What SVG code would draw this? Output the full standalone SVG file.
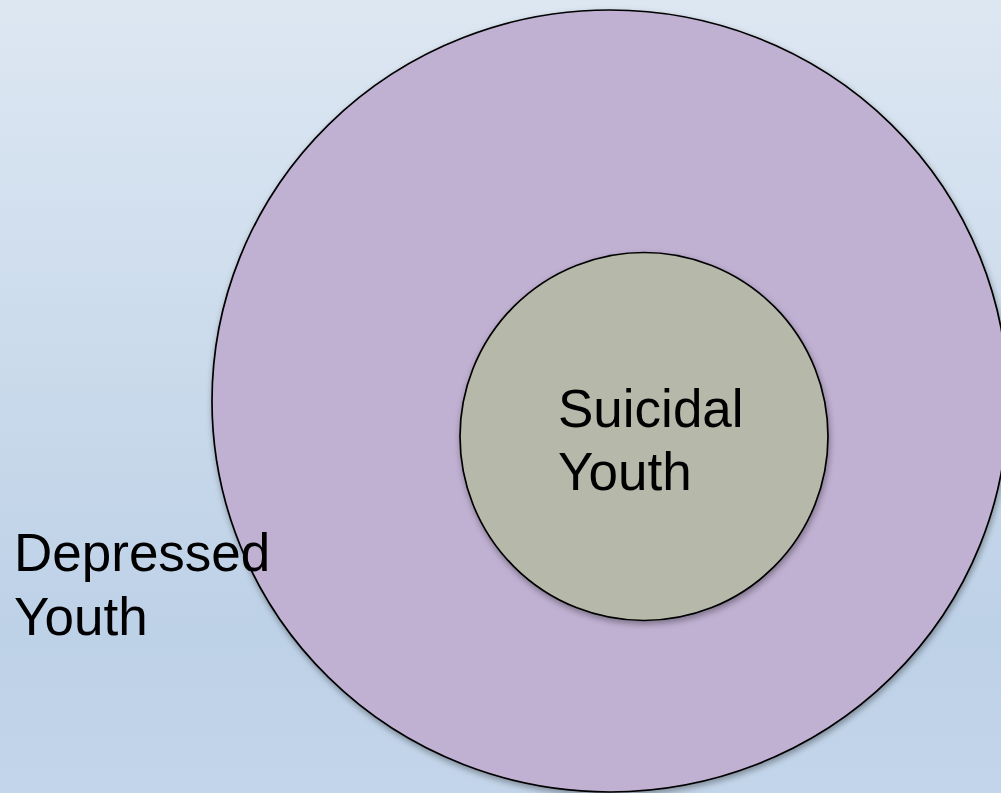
<svg xmlns="http://www.w3.org/2000/svg" width="1001" height="793" viewBox="0 0 1001 793">
  <defs>
    <linearGradient id="bg" x1="0" y1="0" x2="0" y2="1">
      <stop offset="0" stop-color="#dde7f2"/>
      <stop offset="0.8" stop-color="#bdd1e7"/>
      <stop offset="1" stop-color="#c3d5ea"/>
    </linearGradient>
    <filter id="shadow" x="-10%" y="-10%" width="120%" height="120%">
      <feDropShadow dx="1" dy="3" stdDeviation="3" flood-color="#000" flood-opacity="0.35"/>
    </filter>
  </defs>
  <style>
    .ring { stroke: #000; stroke-width: 1.7; filter: url(#shadow); }
    .lbl { font-family: "Liberation Sans", Arial, sans-serif; font-size: 53px; fill: #000; }
  </style>
  <rect x="0" y="0" width="1001" height="793" fill="url(#bg)"/>
  <g id="depressed">
    <ellipse class="ring" cx="610" cy="401" rx="398" ry="391" fill="#c0b0d2"/>
  </g>
  <g id="suicidal">
    <circle class="ring" cx="644" cy="436.5" r="184" fill="#b6b9aa"/>
    <text class="lbl" x="558" y="427">Suicidal</text>
    <text class="lbl" x="558" y="490">Youth</text>
  </g>
  <g id="depressed-label">
    <text class="lbl" x="14" y="571">Depressed</text>
    <text class="lbl" x="14" y="635">Youth</text>
  </g>
  <g id="connectors"/>
</svg>
